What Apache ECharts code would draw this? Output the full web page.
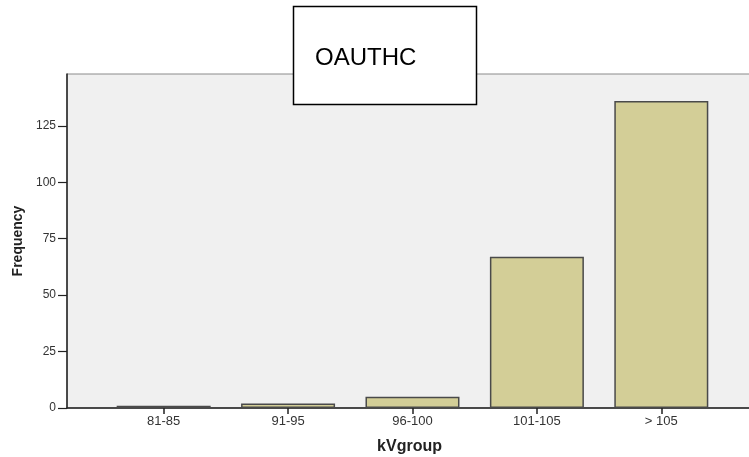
<!DOCTYPE html>
<html>
<head>
<meta charset="utf-8">
<script src="https://cdn.jsdelivr.net/npm/echarts@6/dist/echarts.min.js"></script>
<style>html,body{margin:0;padding:0;background:#fff;}#c{width:749px;height:457px;}</style>
</head>
<body>
<div id="c"></div>
<script>
var categories = ['81-85', '91-95', '96-100', '101-105', '> 105'];
var frequency = [1, 2, 5, 67, 136];
var yTicks = [0, 25, 50, 75, 100, 125];
var chartTitle = 'OAUTHC';

var idx = categories.map(function (c, i) { return i; });
var seriesData = frequency.map(function (v, i) { return [i, v]; });

var chart = echarts.init(document.getElementById('c'), null, { renderer: 'canvas' });
chart.setOption({
  animation: false,
  backgroundColor: '#ffffff',
  grid: {
    left: 67, right: -3, top: 74, bottom: 49,
    outerBoundsMode: 'none',
    containLabel: false,
    show: true, backgroundColor: '#f0f0f0', borderColor: '#8a8a8a', borderWidth: 1
  },
  xAxis: {
    type: 'value',
    min: -0.777,
    max: 4.729,
    name: 'kVgroup',
    nameLocation: 'middle',
    nameGap: 31,
    nameTextStyle: { fontFamily: 'Liberation Sans', fontWeight: 'bold', fontSize: 16, color: '#222' },
    splitLine: { show: false },
    axisLine: { show: true, onZero: false, lineStyle: { color: '#222', width: 1.5 } },
    axisTick: { show: true, customValues: idx, length: 6, lineStyle: { color: '#222', width: 1.5 } },
    axisLabel: {
      customValues: idx, margin: 7,
      fontFamily: 'Liberation Sans', fontSize: 13, color: '#333',
      formatter: function (v) { return categories[Math.round(v)]; }
    }
  },
  yAxis: {
    type: 'value',
    min: 0,
    max: 148,
    name: 'Frequency',
    nameLocation: 'middle',
    nameGap: 37,
    nameRotate: 90,
    nameTextStyle: { fontFamily: 'Liberation Sans', fontWeight: 'bold', fontSize: 14, color: '#222' },
    splitLine: { show: false },
    axisLine: { show: true, onZero: false, lineStyle: { color: '#222', width: 1.5 } },
    axisTick: { show: true, customValues: yTicks, length: 9, lineStyle: { color: '#222', width: 1.2 } },
    axisLabel: { customValues: yTicks, margin: 11, fontFamily: 'Liberation Sans', fontSize: 12, color: '#333' }
  },
  series: [{
    type: 'bar',
    data: seriesData,
    barWidth: 94,
    itemStyle: { color: '#d3ce97', borderColor: '#4a4a4a', borderWidth: 1.5 }
  }],
  graphic: [{
    type: 'group',
    z: 100,
    children: [
      { type: 'rect', shape: { x: 293.5, y: 6.5, width: 183, height: 98 },
        style: { fill: '#ffffff', stroke: '#000000', lineWidth: 1.5 } },
      { type: 'text', x: 315, y: 46,
        style: { text: chartTitle, fill: '#000', font: '24px "Liberation Sans", sans-serif', verticalAlign: 'alphabetic', textVerticalAlign: 'alphabetic' } }
    ]
  }]
});
</script>
</body>
</html>
